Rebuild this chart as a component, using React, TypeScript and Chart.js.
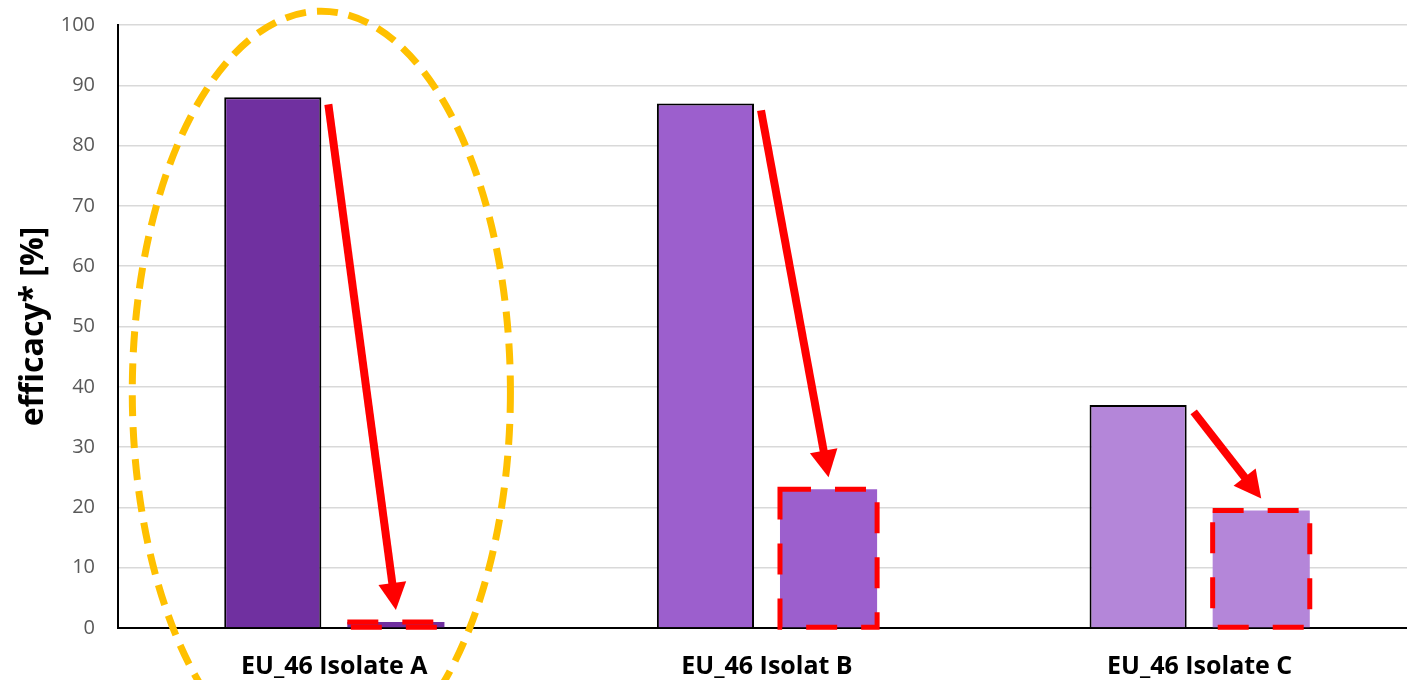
import React, { useEffect, useRef } from "react";
import { Chart, registerables } from "chart.js";

Chart.register(...registerables);

const categories = ["EU_46 Isolate A", "EU_46 Isolat B", "EU_46 Isolate C"];
const efficacyBefore = [88, 87, 37];
const efficacyAfter = [1, 23, 19.5];
const barColors = ["#7030A0", "#9C5FCD", "#B486D9"];
const yMin = 0;
const yMax = 100;
const yStep = 10;
const yTitle = "efficacy* [%]";
const highlightCategory = 0;

const FONT = "'Open Sans', 'DejaVu Sans', sans-serif";

function drawArrow(ctx: CanvasRenderingContext2D, x1: number, y1: number, x2: number, y2: number) {
  const ang = Math.atan2(y2 - y1, x2 - x1);
  const headLen = 27;
  const headW = 14;
  const cos = Math.cos(ang);
  const sin = Math.sin(ang);
  const bx = x2 - headLen * cos;
  const by = y2 - headLen * sin;
  ctx.beginPath();
  ctx.moveTo(x1, y1);
  ctx.lineTo(bx + cos * 2, by + sin * 2);
  ctx.lineWidth = 8;
  ctx.lineCap = "butt";
  ctx.stroke();
  ctx.beginPath();
  ctx.moveTo(x2, y2);
  ctx.lineTo(bx - headW * sin, by + headW * cos);
  ctx.lineTo(bx + headW * sin, by - headW * cos);
  ctx.closePath();
  ctx.fill();
}

const annotationPlugin = {
  id: "annotations",
  afterDatasetsDraw(chart: any) {
    const ctx: CanvasRenderingContext2D = chart.ctx;
    const m0 = chart.getDatasetMeta(0);
    const m1 = chart.getDatasetMeta(1);
    ctx.save();
    // dashed red outlines of the second bars
    ctx.strokeStyle = "#FF0000";
    ctx.lineWidth = 5;
    ctx.setLineDash([31, 24]);
    m1.data.forEach((bar: any) => {
      const { x, y, base, width } = bar.getProps(["x", "y", "base", "width"], true);
      const l = x - width / 2;
      const r = x + width / 2;
      ctx.beginPath();
      ctx.moveTo(l, y);
      ctx.lineTo(r, y);
      ctx.lineTo(r, base);
      ctx.lineTo(l, base);
      ctx.closePath();
      ctx.stroke();
    });
    ctx.setLineDash([]);
    // arrows
    ctx.strokeStyle = "#FF0000";
    ctx.fillStyle = "#FF0000";
    m0.data.forEach((bar: any, i: number) => {
      const b0 = bar.getProps(["x", "y", "width"], true);
      const b1 = m1.data[i].getProps(["x", "y", "width"], true);
      drawArrow(ctx, b0.x + b0.width / 2 + 7, b0.y + 7, b1.x, b1.y - 12);
    });
    ctx.restore();
  },
  afterDraw(chart: any) {
    const ctx: CanvasRenderingContext2D = chart.ctx;
    const xs = chart.scales.x;
    const ys = chart.scales.y;
    const cw = xs.width / categories.length;
    const cx = xs.getPixelForValue(highlightCategory) - cw * 0.03;
    const top = ys.getPixelForValue(102.3);
    const bottom = ys.getPixelForValue(-24);
    const cy = (top + bottom) / 2;
    const ry = (bottom - top) / 2;
    const rx = cw * 0.437;
    ctx.save();
    ctx.strokeStyle = "#FFC000";
    ctx.lineWidth = 7;
    ctx.setLineDash([21, 11]);
    ctx.beginPath();
    ctx.ellipse(cx, cy, rx, ry, 0, 0, Math.PI * 2);
    ctx.stroke();
    ctx.restore();
  },
};

export default function App() {
  const ref = useRef<HTMLCanvasElement>(null);
  useEffect(() => {
    if (!ref.current) return;
    const chart = new Chart(ref.current, {
      type: "bar",
      data: {
        labels: categories,
        datasets: [
          {
            label: "before",
            data: efficacyBefore,
            backgroundColor: barColors,
            borderColor: "#000000",
            borderWidth: 2,
            categoryPercentage: 0.569,
            barPercentage: 0.789,
          },
          {
            label: "after",
            data: efficacyAfter,
            backgroundColor: barColors,
            borderWidth: 0,
            categoryPercentage: 0.569,
            barPercentage: 0.789,
          },
        ],
      },
      options: {
        responsive: false,
        animation: false,
        layout: { padding: { top: 25, left: 0, right: 0, bottom: 0 } },
        plugins: {
          legend: { display: false },
          tooltip: { enabled: false },
        },
        scales: {
          x: {
            grid: { display: false, drawTicks: false },
            border: { color: "#000000", width: 2 },
            ticks: {
              color: "#000000",
              padding: 24,
              font: { family: FONT, size: 25, weight: "bold" },
            },
            afterFit(scale: any) {
              scale.height = 52;
            },
          },
          y: {
            min: yMin,
            max: yMax,
            ticks: {
              stepSize: yStep,
              color: "#595959",
              padding: 23,
              font: { family: FONT, size: 20 },
            },
            grid: { color: "#D9D9D9", lineWidth: 1.5, drawTicks: false },
            border: { color: "#000000", width: 2 },
            title: {
              display: true,
              text: yTitle,
              color: "#000000",
              padding: { top: 15, bottom: 0 },
              font: { family: FONT, size: 32, weight: "bold" },
            },
            afterFit(scale: any) {
              scale.width = 118;
              scale.paddingTop = 0;
              scale.paddingBottom = 0;
            },
          },
        },
      },
      plugins: [annotationPlugin],
    });
    return () => chart.destroy();
  }, []);
  return (
    <div
      style={{
        position: "fixed",
        left: 0,
        top: 0,
        width: 1407,
        height: 680,
        overflow: "hidden",
        background: "#ffffff",
      }}
    >
      <canvas ref={ref} width={1416} height={680} style={{ display: "block" }} />
    </div>
  );
}
